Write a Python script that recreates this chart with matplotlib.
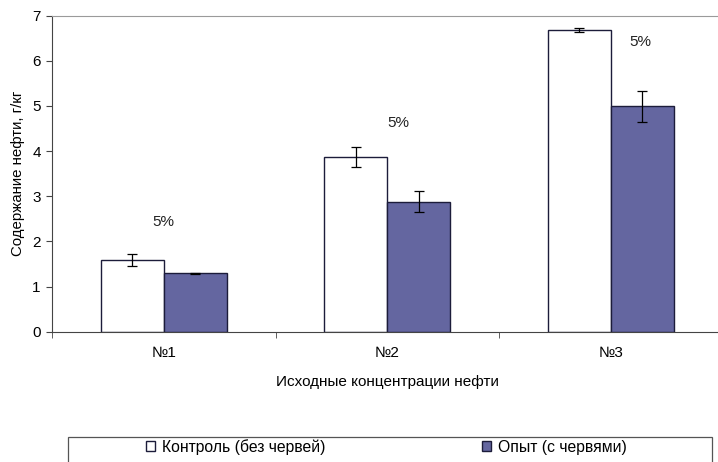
import numpy as np
import matplotlib
matplotlib.use('Agg')
import matplotlib.pyplot as plt
from matplotlib.patches import Rectangle

plt.rcParams['font.family'] = ['Liberation Sans', 'DejaVu Sans']

# data
categories = ['№1', '№2', '№3']
control = [1.59, 3.87, 6.69]
control_err = [0.14, 0.23, 0.04]
experiment = [1.29, 2.88, 4.99]
experiment_err = [0.02, 0.23, 0.35]
pct_labels = ['5%', '5%', '5%']
pct_x = [0.0, 1.05, 2.13]
pct_y = [2.43, 4.63, 6.42]

bar_color = '#6466a0'
edge = '#1c1c3a'
w = 0.282

fig = plt.figure(figsize=(7.18, 4.62), dpi=100)
ax = fig.add_axes([0.0724, 0.282, 0.934, 0.684])

x = np.arange(len(categories))
ax.bar(x - w / 2, control, w, color='white', edgecolor=edge, linewidth=1.0,
       yerr=control_err, error_kw=dict(ecolor='black', elinewidth=0.9, capsize=3.5, capthick=0.9),
       label='Контроль (без червей)')
ax.bar(x + w / 2, experiment, w, color=bar_color, edgecolor=edge, linewidth=1.0,
       yerr=experiment_err, error_kw=dict(ecolor='black', elinewidth=0.9, capsize=3.5, capthick=0.9),
       label='Опыт (с червями)')

for px, py, t in zip(pct_x, pct_y, pct_labels):
    ax.text(px, py, t, ha='center', va='center', fontsize=11, color='#222222')

ax.set_xlim(-0.5, 2.5)
ax.set_ylim(0, 7)
ax.set_yticks(range(0, 8))
ax.set_xticks(x)
ax.set_xticklabels(categories)
ax.set_xticks([-0.5, 0.5, 1.5, 2.5], minor=True)
ax.tick_params(axis='x', which='major', length=0, pad=10, labelsize=11)
ax.tick_params(axis='x', which='minor', length=4, direction='out', color='#444444')
ax.tick_params(axis='y', length=4, direction='out', color='#444444', labelsize=11, pad=4)

ax.spines['top'].set_color('#9a9a9a')
ax.spines['right'].set_visible(False)
ax.spines['left'].set_color('#444444')
ax.spines['bottom'].set_color('#444444')

ax.set_xlabel('Исходные концентрации нефти', fontsize=11, labelpad=11)
ax.set_ylabel('Содержание нефти, г/кг', fontsize=10.8, labelpad=5)

# legend box partly cut off by the bottom edge
fig.patches.append(Rectangle((0.0947, -0.05), 0.897, 0.104, transform=fig.transFigure,
                             facecolor='white', edgecolor='#555555', linewidth=0.9))
h, l = ax.get_legend_handles_labels()
fig.legend(h, l, loc='center', bbox_to_anchor=(0.538, 0.0325), ncol=2, frameon=False,
           fontsize=11.3, handlelength=0.6, handleheight=0.6, handletextpad=0.4,
           columnspacing=10.0)

fig.savefig('out.png', dpi=100)
